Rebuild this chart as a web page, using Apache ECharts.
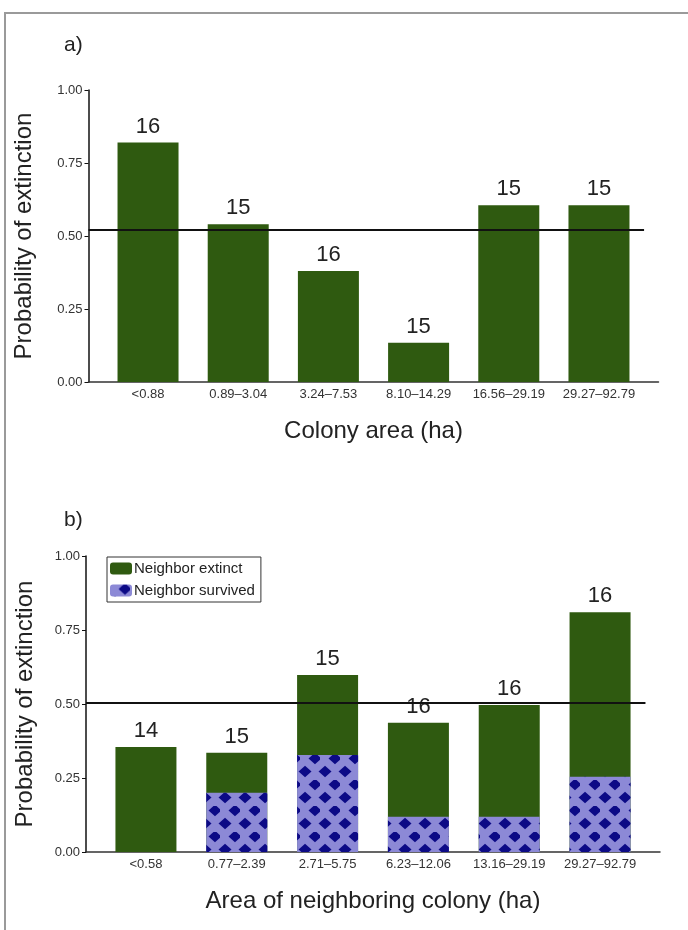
<!DOCTYPE html>
<html>
<head>
<meta charset="utf-8">
<script src="https://cdn.jsdelivr.net/npm/echarts@6/dist/echarts.min.js"></script>
<style>
html,body{margin:0;padding:0;background:#fff;}
#chart{width:688px;height:930px;}
</style>
</head>
<body>
<div id="chart"></div>
<script>
// Panel a)
const catsA = ['<0.88', '0.89–3.04', '3.24–7.53', '8.10–14.29', '16.56–29.19', '29.27–92.79'];
const probA = [0.82, 0.54, 0.38, 0.134, 0.605, 0.605];
const countsA = [16, 15, 16, 15, 15, 15];
const refA = 0.52;

// Panel b)
const catsB = ['<0.58', '0.77–2.39', '2.71–5.75', '6.23–12.06', '13.16–29.19', '29.27–92.79'];
const totalB = [0.355, 0.335, 0.598, 0.437, 0.497, 0.81];
const survivedB = [0, 0.20, 0.328, 0.119, 0.119, 0.254];
const countsB = [14, 15, 15, 16, 16, 16];
const refB = 0.505;

const FONT = '"Liberation Sans", Arial, sans-serif';
const GREEN = '#2f5a10';
const LAVENDER = '#8c89d6';
const NAVY = '#0c0a86';

const chart = echarts.init(document.getElementById('chart'), null, {renderer: 'canvas'});

function xAxisFor(gridIndex, cats, name) {
  return {
    gridIndex: gridIndex,
    type: 'value',
    min: -0.66,
    max: 5.66,
    name: name,
    nameLocation: 'middle',
    nameGap: 37,
    nameTextStyle: {fontSize: 24, color: '#222', fontFamily: FONT},
    axisLine: {show: true, onZero: false, lineStyle: {color: '#333', width: 1.5}},
    axisTick: {show: false},
    splitLine: {show: false},
    axisLabel: {
      customValues: cats.map((c, i) => i),
      formatter: v => cats[Math.round(v)] || '',
      fontSize: 13,
      color: '#333',
      margin: 6,
      fontFamily: FONT
    }
  };
}

function yAxisFor(gridIndex, nameGap) {
  return {
    gridIndex: gridIndex,
    type: 'value',
    min: 0,
    max: 1,
    interval: 0.25,
    name: 'Probability of extinction',
    nameLocation: 'middle',
    nameGap: nameGap,
    nameRotate: 90,
    nameTextStyle: {fontSize: 24, color: '#222', fontFamily: FONT},
    axisLine: {show: true, onZero: false, lineStyle: {color: '#111', width: 1.5}},
    axisTick: {show: true, length: 4, lineStyle: {color: '#111', width: 1}},
    splitLine: {show: false},
    axisLabel: {
      formatter: v => v.toFixed(2),
      fontSize: 13,
      color: '#333',
      margin: 6,
      fontFamily: FONT
    }
  };
}

const option = {
  backgroundColor: '#fff',
  animation: false,
  textStyle: {fontFamily: FONT},
  graphic: [
    {type: 'rect', shape: {x: 5, y: 13, width: 720, height: 960}, style: {fill: 'none', stroke: '#9a9a9a', lineWidth: 2}, silent: true},
    {type: 'text', left: 64, top: 35, style: {text: 'a)', fontSize: 21, fill: '#222', fontFamily: FONT}},
    {type: 'text', left: 64, top: 510, style: {text: 'b)', fontSize: 21, fill: '#222', fontFamily: FONT}}
  ],
  legend: {
    orient: 'vertical',
    left: 107,
    top: 557,
    itemWidth: 22,
    itemHeight: 12,
    itemGap: 7,
    padding: [4, 6, 4, 3],
    borderColor: '#333',
    borderWidth: 1,
    textStyle: {fontSize: 15, color: '#222', fontFamily: FONT, padding: [0, 0, 0, -3]},
    data: ['Neighbor extinct', 'Neighbor survived']
  },
  grid: [
    {left: 88.5, top: 90, width: 570, height: 292},
    {left: 86, top: 556, width: 574, height: 296}
  ],
  xAxis: [
    xAxisFor(0, catsA, 'Colony area (ha)'),
    xAxisFor(1, catsB, 'Area of neighboring colony (ha)')
  ],
  yAxis: [
    yAxisFor(0, 52),
    yAxisFor(1, 49)
  ],
  series: [
    {
      type: 'bar',
      xAxisIndex: 0,
      yAxisIndex: 0,
      barWidth: 61,
      data: probA.map((v, i) => [i, v]),
      itemStyle: {color: GREEN},
      label: {
        show: true, position: 'top', distance: 5, fontSize: 22, color: '#222', fontFamily: FONT,
        formatter: p => String(countsA[p.dataIndex])
      },
      markLine: {
        silent: true, symbol: 'none', animation: false,
        label: {show: false},
        lineStyle: {color: '#111', width: 2, type: 'solid'},
        data: [[{coord: [-0.66, refA]}, {coord: [5.5, refA]}]]
      },
      z: 2
    },
    {
      name: 'Neighbor extinct',
      type: 'bar',
      xAxisIndex: 1,
      yAxisIndex: 1,
      barWidth: 61,
      barGap: '-100%',
      data: totalB.map((v, i) => [i, v]),
      itemStyle: {color: GREEN},
      label: {
        show: true, position: 'top', distance: 5, fontSize: 22, color: '#222', fontFamily: FONT,
        formatter: p => String(countsB[p.dataIndex])
      },
      markLine: {
        silent: true, symbol: 'none', animation: false,
        label: {show: false},
        lineStyle: {color: '#111', width: 2, type: 'solid'},
        data: [[{coord: [-0.66, refB]}, {coord: [5.5, refB]}]]
      },
      z: 2
    },
    {
      name: 'Neighbor survived',
      type: 'bar',
      xAxisIndex: 1,
      yAxisIndex: 1,
      barWidth: 61,
      barGap: '-100%',
      data: survivedB.map((v, i) => [i, v]),
      itemStyle: {
        color: LAVENDER,
        decal: {
          symbol: 'diamond',
          symbolSize: 1.3,
          symbolKeepAspect: false,
          color: NAVY,
          dashArrayX: [[10, 10], [0, 10, 10, 0]],
          dashArrayY: [9, 4],
          rotation: 0
        }
      },
      z: 3
    }
  ]
};

chart.setOption(option);
</script>
</body>
</html>
